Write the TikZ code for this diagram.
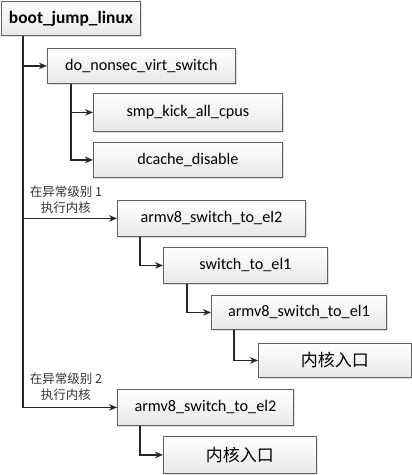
\documentclass[tikz,border=0pt]{standalone}
\usepackage{fontspec}
\setmainfont{Carlito}
\newfontfamily\cjk{Noto Sans CJK SC}
\usepackage{tikz}
\usetikzlibrary{arrows.meta,shadows}

\tikzset{
    callbox/.style={draw=gray!75!black, line width=0.8pt, top color=white, bottom color=gray!18,
        drop shadow={shadow xshift=1.2pt, shadow yshift=-1.2pt, opacity=0.25},
        anchor=north west, inner sep=0pt, font=\fontsize{16.2}{18}\selectfont},
    calls/.style={line width=1.4pt, draw=black!85, -{Stealth[length=8pt, width=6.5pt]}},
    level/.style={font=\cjk\fontsize{12.5}{16.5}\selectfont, align=center, text=black!80}
}

\begin{document}
\begin{tikzpicture}[x=1pt, y=-1pt]
        \useasboundingbox (0,0) rectangle (412,475);

        % Boxes for the call chain
        \node[callbox, minimum width=139pt, minimum height=34pt, font=\bfseries\fontsize{17.4}{19}\selectfont] (boot) at (1,1) {boot\_jump\_linux};
        \node[callbox, minimum width=188pt, minimum height=35pt] (nonsec) at (47,48) {do\_nonsec\_virt\_switch};
        \node[callbox, minimum width=189pt, minimum height=38pt] (smp) at (93,93) {smp\_kick\_all\_cpus};
        \node[callbox, minimum width=189pt, minimum height=35pt] (dcache) at (93,142) {dcache\_disable};

        % Kernel runs at EL1
        \node[callbox, minimum width=188pt, minimum height=36pt] (eltwoa) at (117,200) {armv8\_switch\_to\_el2};
        \node[callbox, minimum width=164pt, minimum height=36pt] (toelone) at (163,247) {switch\_to\_el1};
        \node[callbox, minimum width=175pt, minimum height=34pt] (elone) at (211,295) {armv8\_switch\_to\_el1};
        \node[callbox, minimum width=153pt, minimum height=34pt, font=\cjk\fontsize{17}{19}\selectfont] (entrya) at (258,343) {内核入口};

        % Kernel runs at EL2
        \node[callbox, minimum width=176pt, minimum height=36pt] (eltwob) at (117,389) {armv8\_switch\_to\_el2};
        \node[callbox, minimum width=153pt, minimum height=37pt, font=\cjk\fontsize{17}{19}\selectfont] (entryb) at (163,436) {内核入口};

        % Labels on the main branch
        \node[level] (levela) at (66,200) {在异常级别 1\\执行内核};
        \node[level] (levelb) at (66,387) {在异常级别 2\\执行内核};

        % Draw the calls
        \draw[calls] ([xshift=22pt]boot.south west) |- (nonsec.west);
        \draw[calls] ([xshift=22pt]boot.south west) |- (eltwoa.west);
        \draw[calls] ([xshift=22pt]boot.south west) |- (eltwob.west);
        \draw[calls] ([xshift=24pt]nonsec.south west) |- (smp.west);
        \draw[calls] ([xshift=24pt]nonsec.south west) |- (dcache.west);
        \draw[calls] ([xshift=23pt]eltwoa.south west) |- (toelone.west);
        \draw[calls] ([xshift=24pt]toelone.south west) |- (elone.west);
        \draw[calls] ([xshift=23pt]elone.south west) |- (entrya.west);
        \draw[calls] ([xshift=23pt]eltwob.south west) |- (entryb.west);

    \end{tikzpicture}
\end{document}
